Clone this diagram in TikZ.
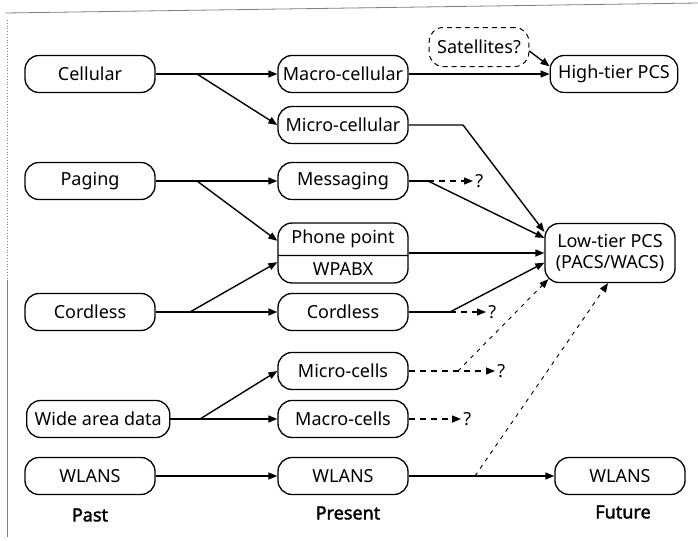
\documentclass[tikz,border=0pt]{standalone}
\usepackage{fontspec}
\setmainfont{Noto Sans}[AutoFakeBold=2]
\usetikzlibrary{arrows.meta,calc,shapes.multipart}

\begin{document}
\begin{tikzpicture}[
		x=0.5pt, y=-0.5pt,
		every node/.style={font=\fontsize{9}{10.5}\selectfont, inner sep=1pt},
		box/.style={draw, line width=0.65pt, rounded corners=7pt, minimum width=65pt, minimum height=18.5pt, inner xsep=4pt, inner ysep=2pt},
		wire/.style={line width=0.7pt},
		link/.style={wire, -{Triangle[length=4.5pt,width=3.5pt]}},
		maybe/.style={link, dash pattern=on 3pt off 2.5pt},
		faint/.style={link, line width=0.45pt, dash pattern=on 2pt off 2.5pt},
		era/.style={font=\fontsize{9}{10.5}\selectfont\bfseries}
	]

	\useasboundingbox (0,0) rectangle (698,541);
	\draw[gray, line width=0.4pt] (5,13) -- (698,3);
	\draw[gray, line width=0.4pt, densely dotted] (7,20) -- (7,280);
	\draw[gray, line width=0.4pt] (7,280) -- (7,537);

	% past
	\node[box] (a1) at (90,74) {Cellular};
	\node[box] (a2) at (90,181) {Paging};
	\node[box] (a3) at (90,312) {Cordless};
	\node[box, minimum width=0pt, anchor=west] (a4) at (26,419) {Wide area data};
	\node[box] (a5) at (90,476) {WLANS};
	\node[era] at (90,515) {Past};

	% present
	\node[box, inner xsep=2pt] (b1) at (343,74) {Macro-cellular};
	\node[box, inner xsep=2pt] (b2) at (343,125) {Micro-cellular};
	\node[box] (b3) at (343,181) {Messaging};
	\node[box, rectangle split, rectangle split parts=2, inner ysep=3.3pt] (b4) at (343,253) {Phone point\nodepart{two}WPABX};
	\node[box] (b5) at (343,312) {Cordless};
	\node[box] (b6) at (343,371) {Micro-cells};
	\node[box] (b7) at (343,419) {Macro-cells};
	\node[box] (b8) at (343,476) {WLANS};
	\node[era] at (348,513) {Present};

	% future
	\node[box, line width=0.5pt, dash pattern=on 2.5pt off 2pt, minimum width=0pt, minimum height=19.5pt] (c1) at (479,47) {Satellites?};
	\node[box, minimum width=0pt] (c2) at (614,74) {High-tier PCS};
	\node[box, align=center, minimum height=29.5pt] (c3) at (610,253) {Low-tier PCS\\(PACS/WACS)};
	\node[box] (c4) at (620,476) {WLANS};
	\node[era] at (623,512) {Future};

	\node[anchor=west] (q1) at (473,181) {?};
	\node[anchor=west] (q2) at (486,312) {?};
	\node[anchor=west] (q3) at (495,371) {?};
	\node[anchor=west] (q4) at (461,419) {?};

	\coordinate (k1) at (197,74);
	\coordinate (k2) at (197,181);
	\coordinate (k3) at (190,312);
	\coordinate (k4) at (200,419);
	\coordinate (k5) at (463,125);
	\coordinate (k6) at (428,181);
	\coordinate (k7) at (450,312);
	\coordinate (k8) at (458,371);
	\coordinate (k9) at (475,476);

	\draw[link] (a1) -- (b1);
	\draw[link] (k1) -- (b2.west);
	\draw[link] (a2) -- (b3);
	\draw[link] (k2) -- ($(b4.north west)!0.3!(b4.south west)$);
	\draw[link] (a3) -- (b5);
	\draw[link] (k3) -- ($(b4.north west)!0.65!(b4.south west)$);
	\draw[link] (a4) -- (b7);
	\draw[link] (k4) -- (b6.west);
	\draw[link] (a5) -- (b8);

	\draw[link] (b1) -- (c2);
	\draw[link] ($(c1.north east)!0.6!(c1.south east)$) -- ($(c2.north west)!0.3!(c2.south west)$);
	\draw[link] (b2) -- (k5) -- ($(c3.north west)!0.15!(c3.south west)$);
	\draw[wire] (b3) -- (k6);
	\draw[link] (k6) -- ($(c3.north west)!0.25!(c3.south west)$);
	\draw[maybe] (k6) -- (q1);
	\draw[link] (b4) -- (c3);
	\draw[wire] (b5) -- (k7);
	\draw[link] (k7) -- ($(c3.north west)!0.66!(c3.south west)$);
	\draw[maybe] (k7) -- (q2);
	\draw[maybe] (b6) -- (q3);
	\draw[faint] (k8) -- ($(c3.south west)+(4,-4)$);
	\draw[maybe] (b7) -- (q4);
	\draw[link] (b8) -- (c4);
	\draw[faint] (k9) -- ($(c3.south)+(-2,0)$);

\end{tikzpicture}
\end{document}
